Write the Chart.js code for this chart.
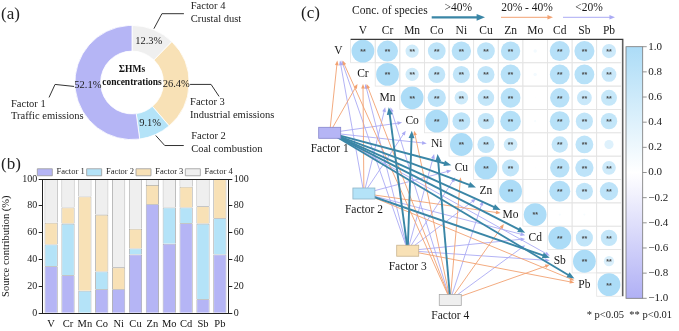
<!DOCTYPE html>
<html>
<head>
<meta charset="utf-8">
<script src="https://cdn.jsdelivr.net/npm/chart.js@4.4.1/dist/chart.umd.min.js"></script>
<style>
  body { margin: 0; width: 679px; height: 331px; position: relative; overflow: hidden; background: #fff; }
  canvas { position: absolute; }
  #pie { left: 0; top: 0; }
  #bar { left: 0; top: 158px; }
  #corr { left: 290px; top: 0; }
</style>
</head>
<body>
<canvas id="pie" width="290" height="160"></canvas>
<canvas id="bar" width="270" height="173"></canvas>
<canvas id="corr" width="389" height="331"></canvas>
<script>
// data
const factors = ['Factor 1', 'Factor 2', 'Factor 3', 'Factor 4'];
const sources = ['Traffic emissions', 'Coal combustion', 'Industrial emissions', 'Crustal dust'];
const shares = [52.1, 9.1, 26.4, 12.3];
const elements = ['V', 'Cr', 'Mn', 'Co', 'Ni', 'Cu', 'Zn', 'Mo', 'Cd', 'Sb', 'Pb'];
// source contribution (%) per element
const f1 = [35.0, 28.3, 0, 18.0, 18.0, 43.8, 81.2, 51.8, 67.0, 10.5, 43.8];
const f2 = [16.3, 38.5, 16.8, 13.2, 0, 4.5, 0, 27.0, 11.8, 56.3, 27.0];
const f3 = [16.2, 12.0, 70.2, 42.3, 16.2, 14.7, 14.3, 0, 15.5, 12.9, 29.2];
const f4 = [32.5, 21.2, 13.0, 26.5, 65.8, 37.0, 4.5, 21.2, 5.7, 20.3, 0];
const barTicks = [0, 20, 40, 60, 80, 100];
// correlation, upper triangle (row i starts at column i)
const corrRows = [
  [1.00, 0.92, 0.58, 0.78, 0.85, 0.78, 0.85, 0.15, 0.88, 0.88, 0.62],
  [1.00, 0.58, 0.75, 0.75, 0.75, 0.87, 0.15, 0.87, 0.87, 0.65],
  [1.00, 0.80, 0.60, 0.72, 0.87, 0.05, 0.85, 0.65, 0.70],
  [1.00, 0.78, 0.72, 0.90, 0.10, 0.87, 0.75, 0.72],
  [1.00, 0.75, 0.60, 0.05, 0.72, 0.78, 0.40],
  [1.00, 0.75, 0.05, 0.85, 0.80, 0.60],
  [1.00, 0.05, 0.92, 0.75, 0.80],
  [1.00, 0.10, 0.10, 0.02],
  [1.00, 0.75, 0.72],
  [1.00, 0.45],
  [1.00]
];
// 2 = p<0.01, 1 = p<0.05, 0 = n.s.
const sigRows = ['22222220222', '2222220222', '222220222', '22220222', '2220220',
                 '220222', '20222', '2000', '222', '22', '2'];
const colorTicks = [1.0, 0.8, 0.6, 0.4, 0.2, 0.0, -0.2, -0.4, -0.6, -0.8, -1.0];
const classes = ['>40%', '20% - 40%', '<20%'];

// styles / layout
const fillColors = ['#b5b5f5', '#b4e3f8', '#f8e1b6', '#efefef'];
const boxBorders = ['#8585cc', '#8fb4c6', '#c9b48f', '#a8a8a8'];
const linkColors = ['#3a86a6', '#f2a272', '#aaaaf4'];
const serif = '"Liberation Serif", "Times New Roman", serif';
// where the factor boxes sit, in matrix units (column, row)
const factorAt = [[-1.35, 3.5], [0.04, 6.1], [1.82, 8.55], [3.55, 10.66]];
// donut leader lines: elbow, tail and text offsets
const leaders = [
  { elbow: [-19, -2], tail: [-6, 13], text: [-38, 6.4] },
  { elbow: [9, 10], tail: [19, 0], text: [7.4, -8.8] },
  { elbow: [21, 0], tail: [8, 12], text: [-29, 6.1] },
  { elbow: [8, -15], tail: [22, 0], text: [6.8, -7.3] }
];

Chart.defaults.font.family = serif;
Chart.defaults.color = '#1a1a1a';
Chart.defaults.animation = false;
Chart.defaults.responsive = false;
Chart.defaults.devicePixelRatio = 1;
Chart.defaults.events = [];
Chart.defaults.plugins.tooltip.enabled = false;

function arrow(ctx, x1, y1, x2, y2, color, width, head) {
  const a = Math.atan2(y2 - y1, x2 - x1);
  ctx.strokeStyle = color;
  ctx.fillStyle = color;
  ctx.lineWidth = width;
  ctx.beginPath();
  ctx.moveTo(x1, y1);
  ctx.lineTo(x2 - Math.cos(a) * head * 0.7, y2 - Math.sin(a) * head * 0.7);
  ctx.stroke();
  ctx.beginPath();
  ctx.moveTo(x2, y2);
  ctx.lineTo(x2 - head * Math.cos(a - 0.38), y2 - head * Math.sin(a - 0.38));
  ctx.lineTo(x2 - head * Math.cos(a + 0.38), y2 - head * Math.sin(a + 0.38));
  ctx.closePath();
  ctx.fill();
}

function corrColor(v) {
  const c = v >= 0 ? [172, 220, 247] : [176, 176, 245];
  const t = Math.min(Math.abs(v), 1);
  const m = c.map(ch => Math.round(255 + (ch - 255) * t));
  return `rgb(${m[0]},${m[1]},${m[2]})`;
}

// (a) donut
const pieOrder = [3, 2, 1, 0];
const pieLabels = {
  id: 'pieLabels',
  afterDraw(chart) {
    const ctx = chart.ctx;
    ctx.save();
    ctx.fillStyle = '#222';
    ctx.textBaseline = 'middle';
    ctx.font = `17px ${serif}`;
    ctx.textAlign = 'left';
    ctx.fillText('(a)', 1, 15);
    chart.getDatasetMeta(0).data.forEach((arc, n) => {
      const k = pieOrder[n];
      const p = arc.getProps(['x', 'y', 'startAngle', 'endAngle', 'innerRadius', 'outerRadius'], true);
      const mid = (p.startAngle + p.endAngle) / 2;
      const rm = (p.innerRadius + p.outerRadius) / 2;
      ctx.font = `10.5px ${serif}`;
      ctx.textAlign = 'center';
      ctx.fillStyle = '#222';
      ctx.fillText(shares[k].toFixed(1) + '%', p.x + Math.cos(mid) * rm, p.y + Math.sin(mid) * rm);
      const L = leaders[k];
      const p0 = [p.x + Math.cos(mid) * (p.outerRadius + 1), p.y + Math.sin(mid) * (p.outerRadius + 1)];
      const p1 = [p0[0] + L.elbow[0], p0[1] + L.elbow[1]];
      const p2 = [p1[0] + L.tail[0], p1[1] + L.tail[1]];
      ctx.strokeStyle = '#333';
      ctx.lineWidth = 1;
      ctx.beginPath();
      ctx.moveTo(p0[0], p0[1]); ctx.lineTo(p1[0], p1[1]); ctx.lineTo(p2[0], p2[1]);
      ctx.stroke();
      ctx.textAlign = 'left';
      ctx.fillText(factors[k], p2[0] + L.text[0], p2[1] + L.text[1]);
      ctx.fillText(sources[k], p2[0] + L.text[0], p2[1] + L.text[1] + 12.6);
    });
    const a0 = chart.getDatasetMeta(0).data[0];
    ctx.font = `bold 9.5px ${serif}`;
    ctx.textAlign = 'center';
    ctx.fillStyle = '#111';
    ctx.fillText('ΣHMs', a0.x, a0.y - 12.5);
    ctx.fillText('concentrations', a0.x, a0.y + 0.5);
    ctx.restore();
  }
};

new Chart(document.getElementById('pie'), {
  type: 'doughnut',
  data: {
    labels: pieOrder.map(k => factors[k]),
    datasets: [{
      data: pieOrder.map(k => shares[k]),
      backgroundColor: pieOrder.map(k => fillColors[k]),
      borderColor: '#fff',
      borderWidth: 0.8
    }]
  },
  options: {
    cutout: '55%',
    layout: { padding: { left: 74.5, right: 100.5, top: 25, bottom: 20 } },
    plugins: { legend: { display: false } }
  },
  plugins: [pieLabels]
});

// (b) stacked bars
const barFrame = {
  id: 'barFrame',
  afterDraw(chart) {
    const { ctx, chartArea: a } = chart;
    ctx.save();
    ctx.strokeStyle = '#222';
    ctx.lineWidth = 1;
    ctx.beginPath();
    ctx.moveTo(a.left, a.top + 0.5);
    ctx.lineTo(a.right, a.top + 0.5);
    ctx.stroke();
    ctx.font = `17px ${serif}`;
    ctx.fillStyle = '#222';
    ctx.textBaseline = 'middle';
    ctx.fillText('(b)', 1, 6.5);
    ctx.restore();
  }
};

const yAxis = side => ({
  position: side,
  stacked: side === 'left',
  min: 0,
  max: 100,
  afterBuildTicks: s => { s.ticks = barTicks.map(v => ({ value: v })); },
  ticks: { font: { size: 10 }, padding: 1.5, color: '#1a1a1a' },
  grid: { drawOnChartArea: false, tickLength: 4, color: '#222' },
  border: { color: '#222' }
});

new Chart(document.getElementById('bar'), {
  type: 'bar',
  data: {
    labels: elements,
    datasets: [f1, f2, f3, f4].map((d, k) => ({
      label: factors[k],
      data: d,
      backgroundColor: fillColors[k],
      borderColor: '#9a9a9a',
      borderWidth: 0.8,
      barPercentage: 0.78,
      categoryPercentage: 1
    }))
  },
  options: {
    layout: { padding: { top: 8 } },
    scales: {
      x: {
        stacked: true,
        grid: { display: false, drawTicks: false },
        border: { color: '#222' },
        ticks: { font: { size: 10.5 }, padding: 5, color: '#111', autoSkip: false, maxRotation: 0, minRotation: 0 },
        afterFit: s => { s.height = 17.7; }
      },
      y: Object.assign(yAxis('left'), {
        title: { display: true, text: 'Source contribution (%)', font: { size: 10.5 }, padding: { top: 0, bottom: 2 }, color: '#111' },
        afterFit: s => { s.width = 42.7; }
      }),
      y1: Object.assign(yAxis('right'), { afterFit: s => { s.width = 41.7; } })
    },
    plugins: {
      legend: {
        position: 'top',
        maxHeight: 13,
        labels: { boxWidth: 15, boxHeight: 7, padding: 2, font: { size: 8.5 }, color: '#222' }
      }
    }
  },
  plugins: [barFrame]
});

// (c) correlation matrix + source network
const cells = [];
corrRows.forEach((row, i) => row.forEach((v, n) => {
  cells.push({ x: i + n, y: i, v: v, s: sigRows[i][n] });
}));

const links = [];
[f1, f2, f3, f4].forEach((d, k) => d.forEach((p, e) => {
  if (p > 0) links.push({ k: k, e: e, cls: p > 40 ? 0 : (p >= 20 ? 1 : 2) });
}));

const corrDecor = {
  id: 'corrDecor',
  beforeDatasetsDraw(chart) {
    const { ctx, scales: { x, y } } = chart;
    ctx.save();
    ctx.strokeStyle = '#e4e4e4';
    ctx.lineWidth = 0.8;
    cells.forEach(c => {
      const l = x.getPixelForValue(c.x - 0.5), r = x.getPixelForValue(c.x + 0.5);
      const t = y.getPixelForValue(c.y - 0.5), b = y.getPixelForValue(c.y + 0.5);
      ctx.strokeRect(l, t, r - l, b - t);
    });
    const last = elements.length - 0.5;
    ctx.strokeStyle = '#3a3a3a';
    ctx.lineWidth = 1.2;
    ctx.beginPath();
    ctx.moveTo(x.getPixelForValue(-0.5), y.getPixelForValue(-0.5));
    ctx.lineTo(x.getPixelForValue(last) + 1.5, y.getPixelForValue(-0.5));
    ctx.lineTo(x.getPixelForValue(last) + 1.5, y.getPixelForValue(last));
    ctx.stroke();
    ctx.restore();
  },
  afterDatasetsDraw(chart) {
    const { ctx, chartArea: area, scales: { x, y } } = chart;
    ctx.save();
    ctx.textBaseline = 'middle';

    // significance marks
    ctx.font = 'bold 7px "Liberation Sans", sans-serif';
    ctx.fillStyle = '#4a4a4a';
    ctx.textAlign = 'center';
    chart.getDatasetMeta(0).data.forEach((pt, n) => {
      const s = cells[n].s;
      if (s !== '0') ctx.fillText(s === '2' ? '**' : '*', pt.x, pt.y + 1);
    });

    // network arrows
    [2, 1, 0].forEach(cls => {
      links.filter(l => l.cls === cls).forEach(l => {
        const sx = x.getPixelForValue(factorAt[l.k][0]), sy = y.getPixelForValue(factorAt[l.k][1]);
        const tx = x.getPixelForValue(l.e - 1), ty = y.getPixelForValue(l.e);
        const dx = tx - sx, dy = ty - sy, len = Math.hypot(dx, dy);
        const ux = dx / len, uy = dy / len;
        const s = Math.min(10 / Math.max(Math.abs(ux), 1e-6), 9.5 / Math.max(Math.abs(uy), 1e-6));
        if (cls === 0) arrow(ctx, sx, sy, tx - ux * s, ty - uy * s, linkColors[0], 1.9, 8);
        else arrow(ctx, sx, sy, tx - ux * s, ty - uy * s, linkColors[cls], 0.9, 5);
      });
    });

    // factor boxes
    factorAt.forEach((p, k) => {
      const cx = x.getPixelForValue(p[0]), cy = y.getPixelForValue(p[1]);
      ctx.fillStyle = fillColors[k];
      ctx.fillRect(cx - 11, cy - 5.5, 22, 11);
      ctx.strokeStyle = boxBorders[k];
      ctx.lineWidth = 0.8;
      ctx.strokeRect(cx - 11, cy - 5.5, 22, 11);
      ctx.fillStyle = '#1a1a1a';
      ctx.font = `11.5px ${serif}`;
      ctx.textAlign = 'center';
      ctx.fillText(factors[k], cx, cy + 16);
    });

    // element labels on the diagonal and column headers
    ctx.font = `11.5px ${serif}`;
    ctx.fillStyle = '#1a1a1a';
    ctx.textAlign = 'center';
    elements.forEach((el, i) => {
      ctx.fillText(el, x.getPixelForValue(i - 1), y.getPixelForValue(i));
      ctx.fillText(el, x.getPixelForValue(i), y.getPixelForValue(-0.5) - 8);
    });

    // header legend
    ctx.textAlign = 'left';
    ctx.fillText('Conc. of species', 62, 10.5);
    const legendX = [[141.7, 195], [211, 263], [273, 325]];
    classes.forEach((c, n) => {
      const [a, b] = legendX[n];
      ctx.fillStyle = '#1a1a1a';
      ctx.textAlign = 'center';
      ctx.fillText(c, (a + b) / 2, 7.5);
      if (n === 0) arrow(ctx, a, 17.3, b, 17.3, linkColors[0], 2.2, 9);
      else arrow(ctx, a, 17.3, b, 17.3, linkColors[n], 1, 6);
    });

    // colour bar
    const bx = area.right + 4.7, bw = 16.7, bt = 46.7, bb = 298.3;
    const g = ctx.createLinearGradient(0, bt, 0, bb);
    g.addColorStop(0, corrColor(1));
    g.addColorStop(0.5, corrColor(0));
    g.addColorStop(1, corrColor(-1));
    ctx.fillStyle = g;
    ctx.fillRect(bx, bt, bw, bb - bt);
    ctx.strokeStyle = '#777';
    ctx.lineWidth = 0.8;
    ctx.strokeRect(bx, bt, bw, bb - bt);
    ctx.font = `11px ${serif}`;
    ctx.fillStyle = '#1a1a1a';
    ctx.textAlign = 'left';
    colorTicks.forEach(v => {
      const ty = bb - (v + 1) / 2 * (bb - bt);
      ctx.beginPath();
      ctx.moveTo(bx + bw, ty);
      ctx.lineTo(bx + bw + 4, ty);
      ctx.stroke();
      ctx.fillText(v.toFixed(1).replace('-', '−'), bx + bw + 5.5, ty);
    });

    // p-value note and panel tag
    ctx.font = `10.5px ${serif}`;
    ctx.textAlign = 'right';
    ctx.fillText('* p<0.05  ** p<0.01', 382, 315.5);
    ctx.font = `17px ${serif}`;
    ctx.textAlign = 'left';
    ctx.fillText('(c)', 11, 14);
    ctx.restore();
  }
};

new Chart(document.getElementById('corr'), {
  type: 'scatter',
  data: {
    datasets: [{
      data: cells,
      pointRadius: c => (c.raw ? 11.4 * Math.abs(c.raw.v) : 3),
      backgroundColor: c => (c.raw ? corrColor(c.raw.v) : '#fff'),
      borderWidth: 0
    }]
  },
  options: {
    layout: { padding: { left: 2, right: 57.7, top: 39.4, bottom: 5.2 } },
    scales: {
      x: { type: 'linear', display: false, min: -2.5, max: 10.5 },
      y: { type: 'linear', display: false, min: -0.5, max: 11.5, reverse: true }
    },
    plugins: { legend: { display: false } }
  },
  plugins: [corrDecor]
});
</script>
</body>
</html>
